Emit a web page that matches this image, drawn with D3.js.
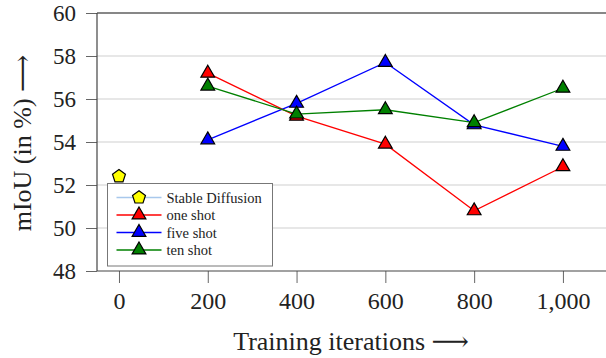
<!DOCTYPE html>
<html>
<head>
<meta charset="utf-8">
<script src="https://cdn.jsdelivr.net/npm/d3@7"></script>
<style>
  body { margin: 0; background: #fff; }
</style>
</head>
<body>
<div class="chart"></div>
<script>
// chart size
var w = 606;
var h = 358;
var margin = {top: 13, right: 0, bottom: 87, left: 97};
var serif = "'Liberation Serif', 'DejaVu Serif', serif";

// data
var iterations = [200, 400, 600, 800, 1000];
var oneShot = [57.2, 55.2, 53.9, 50.8, 52.85];
var fiveShot = [54.1, 55.8, 57.7, 54.8, 53.8];
var tenShot = [56.6, 55.3, 55.5, 54.9, 56.5];
var stableDiffusion = [{x: 0, y: 52.4}];
var xTicks = [0, 200, 400, 600, 800, 1000];
var yTicks = [48, 50, 52, 54, 56, 58, 60];

var series = [
    {name: "one shot", color: "#ff0000", values: oneShot},
    {name: "five shot", color: "#0000ff", values: fiveShot},
    {name: "ten shot", color: "#008000", values: tenShot}
];

var svg = d3.select(".chart")
    .append("svg")
    .attr("width", w)
    .attr("height", h)
    .style("font-family", serif);

var xScale = d3.scaleLinear()
    .domain([-49.5, 1097])
    .range([margin.left, w - margin.right]);

var yScale = d3.scaleLinear()
    .domain([48, 60])
    .range([h - margin.bottom, margin.top]);

// grid lines
svg.append("g")
    .selectAll("line")
    .data(yTicks.filter(function(d) { return d > 48 && d < 60; }))
    .enter()
    .append("line")
    .attr("x1", margin.left)
    .attr("x2", w)
    .attr("y1", function(d) { return yScale(d); })
    .attr("y2", function(d) { return yScale(d); })
    .attr("stroke", "#cfcfcf")
    .attr("stroke-width", 1);

// axes
var xAxis = d3.axisBottom(xScale).tickValues(xTicks).tickSize(12).tickPadding(8)
    .tickFormat(d3.format(","));
var yAxis = d3.axisLeft(yScale).tickValues(yTicks).tickSize(11).tickPadding(6);

var gx = svg.append("g")
    .attr("transform", "translate(0," + yScale(48) + ")")
    .call(xAxis)
    .attr("font-family", null);
gx.select(".domain").remove();
gx.selectAll(".tick line").attr("stroke", "#666");
gx.selectAll(".tick text").style("font-size", "24px").style("font-family", serif)
    .attr("fill", "#222").attr("dy", "0.75em");

var gy = svg.append("g")
    .attr("transform", "translate(" + margin.left + ",0)")
    .call(yAxis)
    .attr("font-family", null);
gy.select(".domain").remove();
gy.selectAll(".tick line").attr("stroke", "#666");
gy.selectAll(".tick text").style("font-size", "23px").style("font-family", serif)
    .attr("fill", "#222").attr("dx", "-4px").attr("dy", "0.33em");

// frame lines
svg.append("line").attr("x1", margin.left).attr("x2", w).attr("y1", yScale(60)).attr("y2", yScale(60))
    .attr("stroke", "#111").attr("stroke-width", 1.2);
svg.append("line").attr("x1", margin.left).attr("x2", w).attr("y1", yScale(48)).attr("y2", yScale(48))
    .attr("stroke", "#444").attr("stroke-width", 1.2);
svg.append("line").attr("x1", margin.left).attr("x2", margin.left).attr("y1", yScale(60)).attr("y2", yScale(48))
    .attr("stroke", "#444").attr("stroke-width", 1.2);

// markers
var triangle = d3.symbol().type(d3.symbolTriangle).size(82);
function pentagon(r) {
    var pts = d3.range(5).map(function(i) {
        var a = -Math.PI / 2 + i * 2 * Math.PI / 5;
        return [r * Math.cos(a), r * Math.sin(a)];
    });
    return "M" + pts.join("L") + "Z";
}

// stable diffusion point
svg.selectAll("path.sd")
    .data(stableDiffusion)
    .enter()
    .append("path")
    .attr("class", "sd")
    .attr("d", pentagon(6.8))
    .attr("transform", function(d) { return "translate(" + xScale(d.x) + "," + yScale(d.y) + ")"; })
    .attr("fill", "#ffff00")
    .attr("stroke", "#000")
    .attr("stroke-width", 1.2);

var line = d3.line()
    .x(function(d, i) { return xScale(iterations[i]); })
    .y(function(d) { return yScale(d); });

series.forEach(function(s) {
    svg.append("path")
        .datum(s.values)
        .attr("d", line)
        .attr("fill", "none")
        .attr("stroke", s.color)
        .attr("stroke-width", 1.3);
    svg.append("g")
        .selectAll("path")
        .data(s.values)
        .enter()
        .append("path")
        .attr("d", triangle)
        .attr("transform", function(d, i) { return "translate(" + xScale(iterations[i]) + "," + yScale(d) + ")"; })
        .attr("fill", s.color)
        .attr("stroke", "#000")
        .attr("stroke-width", 1.2);
});

// legend
var legend = svg.append("g").attr("transform", "translate(107.5,183.5)");
legend.append("rect")
    .attr("width", 165)
    .attr("height", 82.5)
    .attr("fill", "#fff")
    .attr("stroke", "#777")
    .attr("stroke-width", 1);

var legendItems = [{name: "Stable Diffusion", color: "#a8c8ec", pent: true}].concat(series);
legendItems.forEach(function(d, i) {
    var y = 14 + i * 17.5;
    legend.append("line")
        .attr("x1", 9).attr("x2", 54)
        .attr("y1", y).attr("y2", y)
        .attr("stroke", d.color)
        .attr("stroke-width", 1.3);
    legend.append("path")
        .attr("d", d.pent ? pentagon(6.8) : triangle())
        .attr("transform", "translate(31.5," + y + ")")
        .attr("fill", d.pent ? "#ffff00" : d.color)
        .attr("stroke", "#000")
        .attr("stroke-width", 1.2);
    legend.append("text")
        .attr("x", 59)
        .attr("y", y)
        .attr("dy", "0.35em")
        .style("font-size", "14.5px")
        .style("font-family", serif)
        .attr("fill", "#222")
        .text(d.name);
});

// axis titles
svg.append("text")
    .attr("x", 351)
    .attr("y", 350)
    .attr("text-anchor", "middle")
    .style("font-size", "26px")
    .style("font-family", serif)
    .attr("fill", "#222")
    .text("Training iterations \u27F6");

svg.append("text")
    .attr("transform", "translate(31,143) rotate(-90)")
    .attr("text-anchor", "middle")
    .style("font-size", "26px")
    .style("font-family", serif)
    .attr("fill", "#222")
    .text("mIoU (in %) \u27F6");
</script>
</body>
</html>
